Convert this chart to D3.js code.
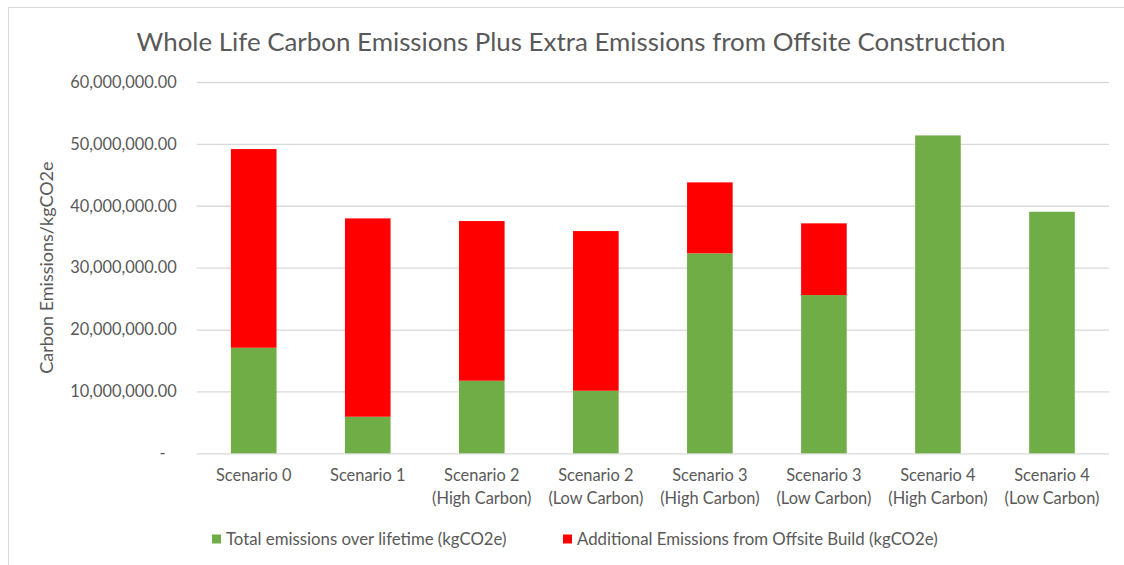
<!DOCTYPE html>
<html>
<head>
<meta charset="utf-8">
<script src="https://cdn.jsdelivr.net/npm/d3@7"></script>
<style>
  html, body { margin: 0; padding: 0; background: #fff; }
  svg { display: block; font-family: Lato, "Open Sans", sans-serif; }
</style>
</head>
<body>
<svg id="chart" width="1124" height="565"></svg>
<script>
// Scenario names (two-line labels split on "\n")
const categories = [
  "Scenario 0",
  "Scenario 1",
  "Scenario 2\n(High Carbon)",
  "Scenario 2\n(Low Carbon)",
  "Scenario 3\n(High Carbon)",
  "Scenario 3\n(Low Carbon)",
  "Scenario 4\n(High Carbon)",
  "Scenario 4\n(Low Carbon)"
];

// Total emissions over lifetime (kgCO2e)
const lifetimeEmissions = [17060000, 5910000, 11730000, 10110000, 32310000, 25570000, 51370000, 39030000];
// Additional emissions from offsite build (kgCO2e)
const offsiteEmissions  = [32100000, 32050000, 25800000, 25800000, 11470000, 11590000, 0, 0];

const seriesNames = [
  "Total emissions over lifetime (kgCO2e)",
  "Additional Emissions from Offsite Build (kgCO2e)"
];
const seriesColors = ["#70ad47", "#ff0000"];
const yTicks = [0, 10000000, 20000000, 30000000, 40000000, 50000000, 60000000];

const svg = d3.select("#chart");
const W = 1124, H = 565;
const plot = { left: 196.7, right: 1109, top: 82, bottom: 453.3 };

// Chart frame (light border, left and top visible)
svg.append("rect")
  .attr("x", 8.5).attr("y", 7.5)
  .attr("width", W + 10).attr("height", H + 10)
  .attr("fill", "#fff").attr("stroke", "#d9d9d9").attr("stroke-width", 1);

const x = d3.scaleBand().domain(categories).range([plot.left, plot.right]).paddingInner(0.6).paddingOuter(0.3);
const y = d3.scaleLinear().domain([0, 60000000]).range([plot.bottom, plot.top]);

// Gridlines + tick labels via axis
const fmt = v => v === 0 ? "-" : d3.format(",.2f")(v);
const yAxis = d3.axisLeft(y).tickValues(yTicks).tickFormat(fmt)
  .tickSize(-(plot.right - plot.left)).tickPadding(20);
const gy = svg.append("g").attr("transform", `translate(${plot.left},0)`).call(yAxis);
gy.select(".domain").remove();
gy.selectAll(".tick line").attr("stroke", "#d9d9d9").attr("stroke-width", 1.3);
gy.selectAll(".tick text")
  .attr("fill", "#595959").style("font-size", "16.4px").style("font-family", "Lato, sans-serif");
gy.selectAll(".tick").filter(d => d === 0).select("text").attr("dx", -11);

// Stacked bars
const stackData = categories.map((c, i) => ({ cat: c, a: lifetimeEmissions[i], b: offsiteEmissions[i] }));
const stacked = d3.stack().keys(["a", "b"])(stackData);
svg.append("g").selectAll("g").data(stacked).join("g")
  .attr("fill", (d, i) => seriesColors[i])
  .selectAll("rect").data(d => d.filter(p => p[1] - p[0] > 0)).join("rect")
  .attr("x", d => x(d.data.cat))
  .attr("width", x.bandwidth())
  .attr("y", d => y(d[1]))
  .attr("height", d => y(d[0]) - y(d[1]));

// Category labels
const gx = svg.append("g");
categories.forEach(c => {
  const lines = c.split("\n");
  const t = gx.append("text")
    .attr("x", x(c) + x.bandwidth() / 2)
    .attr("y", 481)
    .attr("text-anchor", "middle")
    .attr("fill", "#595959")
    .style("font-size", "16.4px");
  lines.forEach((ln, k) => {
    t.append("tspan").attr("x", x(c) + x.bandwidth() / 2).attr("dy", k === 0 ? 0 : 23).text(ln);
  });
});

// Title
svg.append("text")
  .attr("x", 571).attr("y", 51)
  .attr("text-anchor", "middle")
  .attr("fill", "#595959")
  .style("font-size", "25.9px")
  .text("Whole Life Carbon Emissions Plus Extra Emissions from Offsite Construction");

// Y axis title
svg.append("text")
  .attr("transform", `translate(53,${(plot.top + plot.bottom) / 2}) rotate(-90)`)
  .attr("text-anchor", "middle")
  .attr("fill", "#595959")
  .style("font-size", "18px")
  .text("Carbon Emissions/kgCO2e");

// Legend
const legendX = [212, 563];
const lg = svg.append("g");
seriesNames.forEach((name, i) => {
  lg.append("rect").attr("x", legendX[i]).attr("y", 534.5).attr("width", 9).attr("height", 9).attr("fill", seriesColors[i]);
  lg.append("text").attr("x", legendX[i] + 14).attr("y", 545)
    .attr("fill", "#595959").style("font-size", "16.8px").text(name);
});
</script>
</body>
</html>
